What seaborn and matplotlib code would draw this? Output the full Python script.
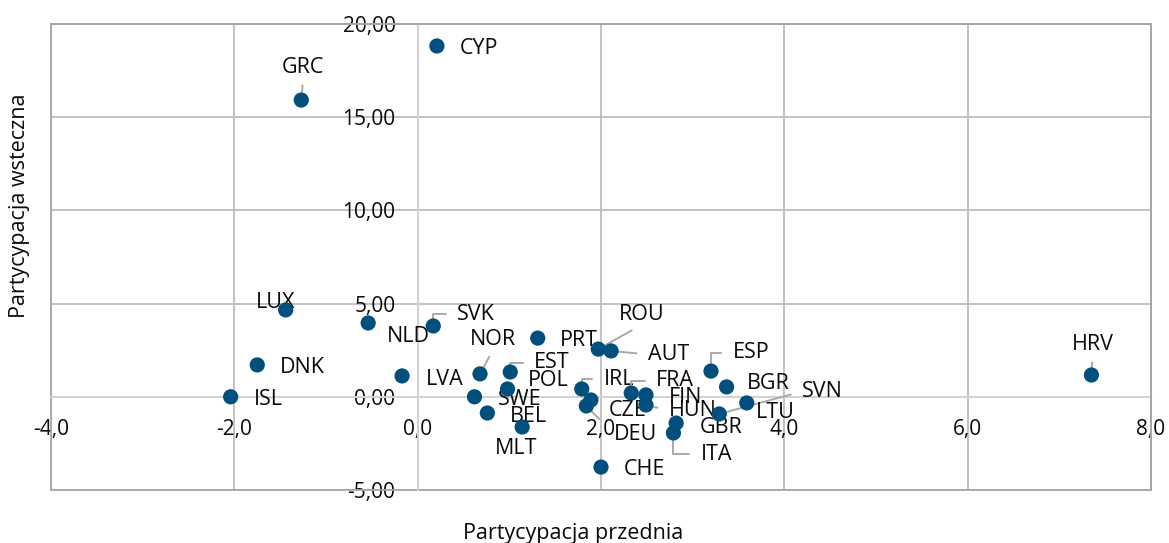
import pandas as pd
import seaborn as sns
import matplotlib.pyplot as plt
from matplotlib.ticker import FuncFormatter

countries = ["CYP", "GRC", "LUX", "NLD", "SVK", "DNK", "ISL", "LVA", "NOR", "EST",
             "POL", "SWE", "BEL", "MLT", "PRT", "ROU", "AUT", "IRL", "CZE", "DEU",
             "CHE", "FRA", "FIN", "HUN", "GBR", "ITA", "ESP", "BGR", "SVN", "LTU", "HRV"]
forward = [0.21, -1.27, -1.44, -0.54, 0.17, -1.75, -2.04, -0.17, 0.68, 1.01,
           0.98, 0.62, 0.76, 1.14, 1.31, 1.97, 2.11, 1.79, 1.89, 1.84,
           2.00, 2.33, 2.49, 2.49, 2.82, 2.79, 3.20, 3.37, 3.29, 3.59, 7.35]
backward = [18.82, 15.92, 4.66, 3.96, 3.80, 1.71, 0.00, 1.12, 1.23, 1.33,
            0.42, 0.00, -0.87, -1.62, 3.15, 2.56, 2.46, 0.42, -0.17, -0.49,
            -3.77, 0.20, 0.10, -0.44, -1.41, -1.94, 1.38, 0.53, -0.92, -0.33, 1.17]

x_ticks = [-4, -2, 0, 2, 4, 6, 8]
y_ticks = [-5, 0, 5, 10, 15, 20]

# label placement: offset in pixels (right, down), alignment, leader type
label_pos = {
    "CYP": (23, 0, "left", None), "GRC": (2, -35, "center", "up"),
    "LUX": (-10, -10, "center", None), "NLD": (19, 11, "left", None),
    "SVK": (24, -14, "left", "elbow"), "DNK": (23, 0, "left", None),
    "ISL": (23, 0, "left", None), "LVA": (24, 1, "left", None),
    "NOR": (13, -37, "center", "up"), "EST": (24, -12, "left", "elbow"),
    "POL": (20, -11, "left", None), "SWE": (23, 0, "left", None),
    "BEL": (23, 1, "left", None), "MLT": (-6, 19, "center", None),
    "PRT": (22, 0, "left", None), "ROU": (43, -37, "center", "up"),
    "AUT": (37, 1, "left", "side"), "IRL": (22, -12, "left", "elbow"),
    "CZE": (18, 8, "left", None), "DEU": (28, 26, "left", "far"),
    "CHE": (23, 0, "left", None), "FRA": (25, -15, "left", "elbow"),
    "FIN": (23, 0, "left", None), "HUN": (23, 3, "left", "side"),
    "GBR": (24, 2, "left", None), "ITA": (27, 19, "left", "elbow"),
    "ESP": (22, -21, "left", "elbow"), "BGR": (20, -6, "left", None),
    "SVN": (83, -25, "left", "side"), "LTU": (9, 7, "left", None),
    "HRV": (1, -33, "center", "up"),
}

df = pd.DataFrame({"country": countries, "fwd": forward, "bwd": backward})

sns.set_style("white")
plt.rcParams["font.family"] = ["Open Sans", "DejaVu Sans"]

fig = plt.figure(figsize=(11.69, 5.43), dpi=100)
ax = fig.add_axes([51 / 1169, 1 - 490 / 543, 1100 / 1169, 466 / 543])

sns.scatterplot(data=df, x="fwd", y="bwd", s=120, color="#004f7c",
                edgecolor="none", legend=False, ax=ax, zorder=3)

line_c = "#a9a9a9"
for c, x, y in zip(countries, forward, backward):
    dx, dy, ha, kind = label_pos[c]
    ap = None
    if kind == "elbow":
        ap = dict(arrowstyle="-", color=line_c, lw=1.4, shrinkA=6, shrinkB=0,
                  relpos=(0, 0.5), connectionstyle="angle,angleA=0,angleB=90,rad=0")
    elif kind == "up":
        ap = dict(arrowstyle="-", color=line_c, lw=1.4, shrinkA=3, shrinkB=0,
                  relpos=(0.5, 0))
    elif kind == "side":
        ap = dict(arrowstyle="-", color=line_c, lw=1.4, shrinkA=6, shrinkB=0,
                  relpos=(0, 0.5))
    elif kind == "far":
        ap = dict(arrowstyle="-", color=line_c, lw=1.4, shrinkA=12, shrinkB=0,
                  relpos=(0, 0.5))
    ax.annotate(c, (x, y), xytext=(dx, -dy), textcoords="offset pixels",
                ha=ha, va="center_baseline", fontsize=15.5, color="#0a0a0a",
                arrowprops=ap, zorder=2)

ax.set_xlim(-4, 8)
ax.set_ylim(-5, 20)
ax.set_xticks(x_ticks)
ax.set_yticks(y_ticks)
ax.xaxis.set_major_formatter(FuncFormatter(lambda v, p: f"{v:.1f}".replace(".", ",")))
ax.yaxis.set_major_formatter(FuncFormatter(lambda v, p: f"{v:.2f}".replace(".", ",")))

ax.grid(True, color="#bdbdbd", lw=1.3)
ax.set_axisbelow(True)
for side in ["left", "bottom"]:
    ax.spines[side].set_position(("data", 0))
    ax.spines[side].set_color("#d3d3d3")
    ax.spines[side].set_linewidth(1.5)
    ax.spines[side].set_zorder(1)
for side in ["top", "right"]:
    ax.spines[side].set_color("#a6a6a6")
    ax.spines[side].set_linewidth(1.3)
ax.add_patch(plt.Rectangle((0, 0), 1, 1, transform=ax.transAxes, fill=False,
                           ec="#a6a6a6", lw=1.3, clip_on=False, zorder=0.6))

ax.tick_params(axis="both", length=0, labelsize=15, colors="#0a0a0a")
ax.tick_params(axis="x", pad=16)
ax.tick_params(axis="y", pad=16)

ax.set_xlabel("Partycypacja przednia", fontsize=15.5, color="#0a0a0a")
ax.set_ylabel("Partycypacja wsteczna", fontsize=15.5, color="#0a0a0a")
ax.xaxis.set_label_coords(0.475, -0.071)
ax.yaxis.set_label_coords(-0.019, 0.609)

fig.savefig("out.png", dpi=100)
plt.close()
